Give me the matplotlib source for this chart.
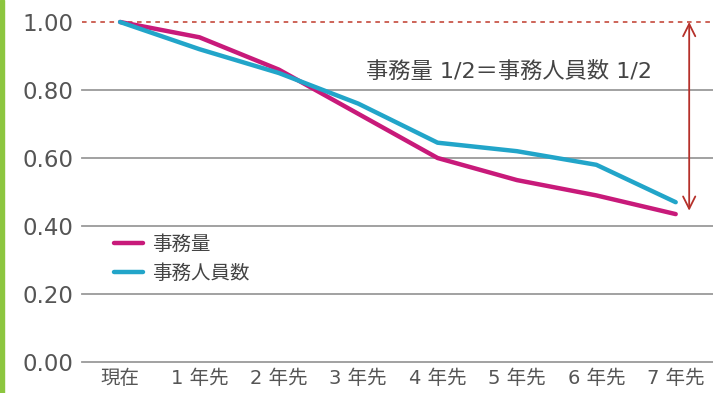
import matplotlib
matplotlib.use("Agg")
import matplotlib.pyplot as plt
from matplotlib.patches import Rectangle

plt.rcParams['font.family'] = ['DejaVu Sans', 'Noto Sans CJK JP']

periods = ['現在', '1 年先', '2 年先', '3 年先', '4 年先', '5 年先', '6 年先', '7 年先']
workload = [1.00, 0.955, 0.86, 0.73, 0.60, 0.535, 0.49, 0.435]
staff = [1.00, 0.92, 0.85, 0.76, 0.645, 0.62, 0.58, 0.47]
yticks = [0.0, 0.2, 0.4, 0.6, 0.8, 1.0]
note = '事務量 1/2＝事務人員数 1/2'

W, H = 713, 393
fig = plt.figure(figsize=(W / 100, H / 100), dpi=100)
fig.patch.set_facecolor('white')

# green strip on the left edge
fig.patches.append(Rectangle((0, 0), 4 / W, 1, transform=fig.transFigure,
                             color='#8cc63f', zorder=0))

ax = fig.add_axes([82 / W, (H - 362) / H, 1 - 82 / W, (362 - 22) / H])
ax.set_xlim(-0.48, 7.47)
ax.set_ylim(0, 1)
ax.patch.set_alpha(0)
for s in ax.spines.values():
    s.set_visible(False)

for y in yticks[:-1]:
    ax.axhline(y, color='#9a9a9a', lw=1.3, zorder=1, clip_on=False)
ax.axhline(1.0, color='#c0392b', lw=1.1, ls=(0, (3, 3)), zorder=1, clip_on=False)

x = range(len(periods))
ax.plot(x, workload, color='#c81a7a', lw=3.2, solid_capstyle='round',
        label='事務量', zorder=3, clip_on=False)
ax.plot(x, staff, color='#22a5c9', lw=3.2, solid_capstyle='round',
        label='事務人員数', zorder=3, clip_on=False)

# double arrow showing the halving
ax.annotate('', xy=(7.17, workload[-1] + 0.01), xytext=(7.17, 1.0),
            arrowprops=dict(arrowstyle='<->', color='#b5302a', lw=1.3,
                            mutation_scale=22, shrinkA=0, shrinkB=0),
            annotation_clip=False)
ax.text(4.9, 0.855, note, ha='center', va='center', fontsize=16, color='#444444')

ax.set_yticks(yticks)
ax.set_yticklabels([f'{v:.2f}' for v in yticks], fontsize=16.5, color='#555555')
ax.set_xticks(list(x))
ax.set_xticklabels(periods, fontsize=14, color='#555555')
ax.tick_params(axis='both', length=0)
ax.tick_params(axis='y', pad=6)
ax.tick_params(axis='x', pad=5)

leg = ax.legend(loc='upper left', bbox_to_anchor=(114 / W, (H - 235) / H),
                bbox_transform=fig.transFigure, frameon=False, fontsize=14,
                handlelength=1.5, handletextpad=0.45, labelspacing=0.5,
                borderpad=0, borderaxespad=0)
for t in leg.get_texts():
    t.set_color('#444444')

fig.savefig('out.png', dpi=100)
